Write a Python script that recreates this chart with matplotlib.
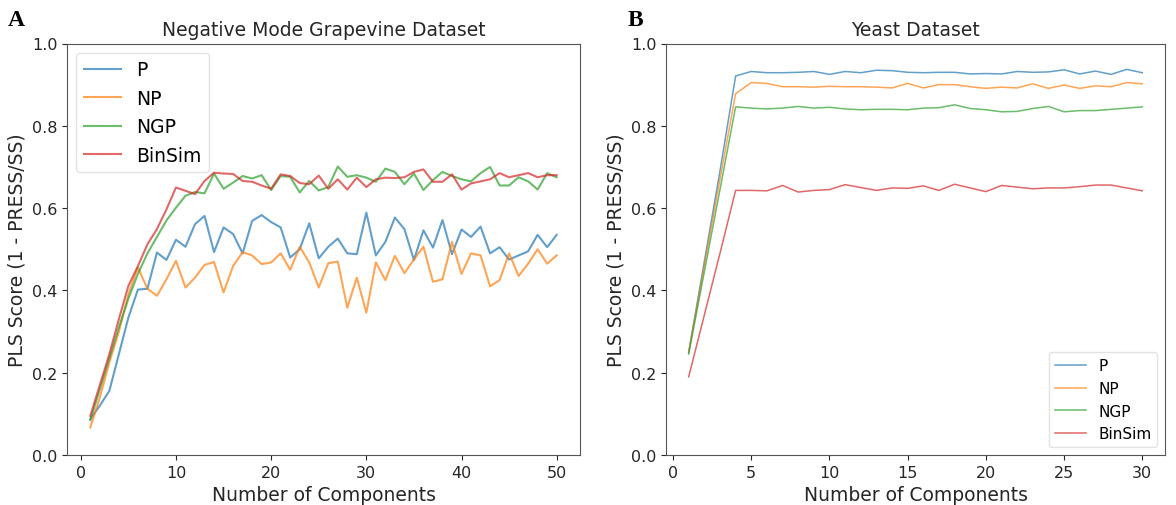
import matplotlib
matplotlib.use("Agg")
import matplotlib.pyplot as plt
import numpy as np

# ---------------- data ----------------
labels = ["P", "NP", "NGP", "BinSim"]

xA = list(range(1, 51))
A_P = [0.087, 0.12, 0.156, 0.245, 0.334, 0.402, 0.404, 0.492, 0.474, 0.523,
       0.506, 0.561, 0.581, 0.493, 0.553, 0.537, 0.490, 0.569, 0.583, 0.566,
       0.553, 0.480, 0.500, 0.563, 0.478, 0.506, 0.526, 0.490, 0.488, 0.589,
       0.485, 0.518, 0.577, 0.549, 0.474, 0.546, 0.504, 0.571, 0.488, 0.548,
       0.530, 0.555, 0.490, 0.505, 0.475, 0.485, 0.495, 0.535, 0.505, 0.535]
A_NP = [0.067, 0.14, 0.225, 0.30, 0.39, 0.456, 0.404, 0.387, 0.427, 0.472,
        0.407, 0.431, 0.462, 0.469, 0.395, 0.459, 0.493, 0.485, 0.464, 0.468,
        0.490, 0.450, 0.506, 0.468, 0.407, 0.466, 0.470, 0.358, 0.431, 0.346,
        0.468, 0.425, 0.484, 0.442, 0.475, 0.506, 0.421, 0.427, 0.518, 0.440,
        0.490, 0.485, 0.410, 0.425, 0.490, 0.435, 0.465, 0.500, 0.465, 0.485]
A_NGP = [0.085, 0.16, 0.235, 0.31, 0.38, 0.44, 0.49, 0.53, 0.57, 0.601,
         0.630, 0.639, 0.636, 0.684, 0.647, 0.662, 0.678, 0.672, 0.680, 0.644,
         0.678, 0.676, 0.638, 0.666, 0.643, 0.651, 0.701, 0.676, 0.680, 0.674,
         0.664, 0.696, 0.688, 0.658, 0.684, 0.644, 0.668, 0.688, 0.678, 0.670,
         0.665, 0.685, 0.700, 0.655, 0.655, 0.675, 0.665, 0.645, 0.685, 0.675]
A_BinSim = [0.095, 0.17, 0.245, 0.33, 0.411, 0.459, 0.512, 0.549, 0.597, 0.650,
            0.642, 0.634, 0.666, 0.686, 0.684, 0.683, 0.666, 0.664, 0.655, 0.647,
            0.682, 0.678, 0.661, 0.658, 0.679, 0.647, 0.670, 0.645, 0.674, 0.651,
            0.670, 0.674, 0.673, 0.675, 0.688, 0.694, 0.664, 0.664, 0.682, 0.645,
            0.660, 0.665, 0.670, 0.685, 0.675, 0.680, 0.685, 0.675, 0.680, 0.680]

xB = list(range(1, 31))
B_P = [0.25, 0.47, 0.69, 0.921, 0.932, 0.929, 0.929, 0.930, 0.932, 0.925,
       0.932, 0.929, 0.935, 0.934, 0.930, 0.929, 0.930, 0.930, 0.926, 0.927,
       0.926, 0.932, 0.930, 0.931, 0.936, 0.926, 0.933, 0.925, 0.937, 0.929]
B_NP = [0.25, 0.46, 0.67, 0.878, 0.905, 0.903, 0.895, 0.895, 0.894, 0.896,
        0.895, 0.895, 0.894, 0.892, 0.903, 0.892, 0.900, 0.900, 0.895, 0.891,
        0.894, 0.892, 0.902, 0.891, 0.899, 0.891, 0.897, 0.895, 0.905, 0.902]
B_NGP = [0.245, 0.445, 0.645, 0.846, 0.843, 0.841, 0.843, 0.847, 0.843, 0.845,
         0.841, 0.839, 0.840, 0.840, 0.839, 0.843, 0.844, 0.851, 0.842, 0.839,
         0.834, 0.835, 0.842, 0.847, 0.834, 0.837, 0.837, 0.840, 0.843, 0.846]
B_BinSim = [0.19, 0.34, 0.49, 0.643, 0.643, 0.642, 0.655, 0.639, 0.643, 0.645,
            0.657, 0.650, 0.643, 0.649, 0.648, 0.654, 0.643, 0.658, 0.649, 0.640,
            0.655, 0.651, 0.647, 0.649, 0.649, 0.652, 0.656, 0.656, 0.649, 0.642]

yticks = [0.0, 0.2, 0.4, 0.6, 0.8, 1.0]
colors = ["#1f77b4", "#ff7f0e", "#2ca02c", "#d62728"]

# ---------------- figure ----------------
W, H = 1176, 506
fig = plt.figure(figsize=(W / 100, H / 100), dpi=100)
fig.patch.set_facecolor("white")

axA = fig.add_axes([67 / W, 50 / H, (580 - 67) / W, 411.5 / H])
axB = fig.add_axes([666 / W, 50 / H, (1165 - 666) / W, 411.5 / H])

spine_col = "#555555"
text_col = "#262626"

for ax, xs, series, title, lw, lfs, loc in [
        (axA, xA, [A_P, A_NP, A_NGP, A_BinSim], "Negative Mode Grapevine Dataset", 1.5, 13.5, "upper left"),
        (axB, xB, [B_P, B_NP, B_NGP, B_BinSim], "Yeast Dataset", 1.1, 11, "lower right")]:
    for vals, c, lab in zip(series, colors, labels):
        ax.plot(xs, vals, color=c, lw=lw, alpha=0.7, label=lab)
    ax.set_ylim(0, 1.0)
    ax.set_yticks(yticks)
    ax.set_title(title, fontsize=13.5, color=text_col, pad=6)
    ax.set_xlabel("Number of Components", fontsize=13.5, color=text_col)
    ax.set_ylabel("PLS Score (1 - PRESS/SS)", fontsize=13.5, color=text_col)
    ax.tick_params(labelsize=11.5, colors=text_col)
    for s in ax.spines.values():
        s.set_color(spine_col)
    leg = ax.legend(loc=loc, fontsize=lfs, frameon=True)
    leg.get_frame().set_edgecolor("#dddddd")

axA.set_xticks([0, 10, 20, 30, 40, 50])
axB.set_xticks([0, 5, 10, 15, 20, 25, 30])

fig.text(8 / W, 1 - 10 / H, "A", fontsize=17, fontweight="bold",
         family="Liberation Serif", va="top", ha="left")
fig.text(628 / W, 1 - 10 / H, "B", fontsize=17, fontweight="bold",
         family="Liberation Serif", va="top", ha="left")

fig.savefig("out.png", dpi=100)
